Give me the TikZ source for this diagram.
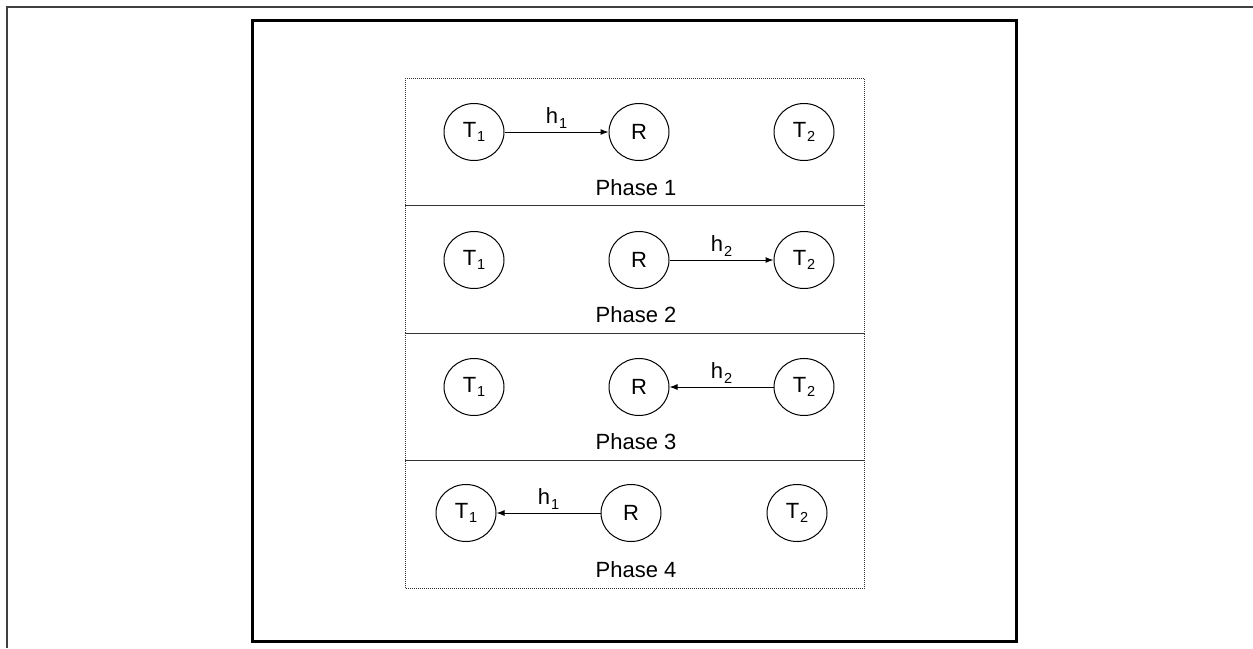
\documentclass[tikz,border=0pt]{standalone}
\usepackage{fontspec}
\setmainfont{Liberation Sans}
\usetikzlibrary{shapes.geometric,arrows.meta}
\newcommand{\idx}[1]{\kern1pt\raisebox{-4.5pt}{\fontsize{14.5}{15}\selectfont #1}}
\tikzset{
  station/.style={draw,ellipse,minimum width=60pt,minimum height=57pt,inner sep=0pt,line width=1pt},
  link/.style={line width=1pt,-{Latex[length=8pt,width=6pt]}},
  phasebox/.style={draw=black!80,line width=0.8pt,dash pattern=on 1pt off 1pt}
}
\begin{document}
\begin{tikzpicture}[x=1pt,y=-1pt,font=\fontsize{22}{26}\selectfont]
    \useasboundingbox (0,0) rectangle (1253,648);

    % Frames
    \draw [draw=black!75,line width=1.5pt] (7,648) -- (7,7) -- (1253,7);
    \draw [line width=3pt] (252,20) rectangle (1016,641);

    % Phase boxes
    \draw [phasebox] (405,78) rectangle (864,205.5);
    \draw [phasebox] (405,205.5) rectangle (864,333);
    \draw [phasebox] (405,333) rectangle (864,460.5);
    \draw [phasebox] (405,460.5) rectangle (864,588);

    % Phase 1
    \node [station] (t1a) at (474,132) {T\idx{1}};
    \node [station] (ra) at (639,132) {R};
    \node [station] (t2a) at (804,132) {T\idx{2}};
    \draw [link] (t1a) -- node [above=0pt] {h\idx{1}} (ra);
    \node (pa) at (636,188) {Phase 1};

    % Phase 2
    \node [station] (t1b) at (474,260) {T\idx{1}};
    \node [station] (rb) at (639,260) {R};
    \node [station] (t2b) at (804,260) {T\idx{2}};
    \draw [link] (rb) -- node [above=0pt] {h\idx{2}} (t2b);
    \node (pb) at (636,315) {Phase 2};

    % Phase 3
    \node [station] (t1c) at (474,387) {T\idx{1}};
    \node [station] (rc) at (639,387) {R};
    \node [station] (t2c) at (804,387) {T\idx{2}};
    \draw [link] (t2c) -- node [above=0pt] {h\idx{2}} (rc);
    \node (pc) at (636,442) {Phase 3};

    % Phase 4
    \node [station] (t1d) at (466,513) {T\idx{1}};
    \node [station] (rd) at (631,513) {R};
    \node [station] (t2d) at (797,513) {T\idx{2}};
    \draw [link] (rd) -- node [above=0pt] {h\idx{1}} (t1d);
    \node (pd) at (636,570) {Phase 4};
\end{tikzpicture}
\end{document}
